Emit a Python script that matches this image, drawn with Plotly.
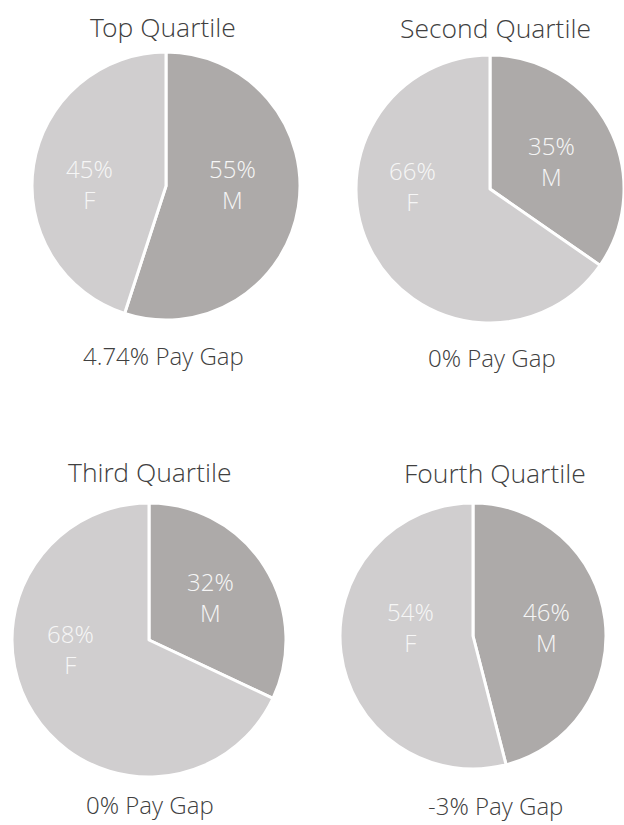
import plotly.graph_objects as go

W, H = 624, 825

quartiles = ["Top Quartile", "Second Quartile", "Third Quartile", "Fourth Quartile"]
labels = ["M", "F"]
male_pct = [55, 35, 32, 46]
female_pct = [45, 66, 68, 54]
pay_gap = ["4.74% Pay Gap", "0% Pay Gap", "0% Pay Gap", "-3% Pay Gap"]

colors = ["#ADAAA9", "#D0CECF"]
FONT = "Open Sans Light, Open Sans"

# layout: pie centre (px) and radius (px)
layout_px = [
    (166, 186, 134),
    (490, 189, 134),
    (149, 640, 137),
    (473, 636, 133),
]
title_px = [(163, 27), (495, 28), (150, 472), (495, 473)]
gap_px = [(163, 355), (492, 357), (150, 804), (495, 805)]
# label block centres (M, F) in px
label_px = [
    [(232, 184), (90, 184)],
    [(551, 161), (412, 186)],
    [(210, 597), (70, 649)],
    [(546, 627), (410, 627)],
]


def ann(x, y, text, size, color):
    fig.add_annotation(x=x / W, y=1 - y / H, xref="paper", yref="paper",
                       text=text, showarrow=False, xanchor="center", yanchor="middle",
                       font=dict(family=FONT, size=size, color=color, weight=300))


fig = go.Figure()
for i, q in enumerate(quartiles):
    cx, cy, r = layout_px[i]
    x0, x1 = max(0, cx - r) / W, min(W, cx + r) / W
    y0, y1 = (H - cy - r) / H, (H - cy + r) / H
    vals = [male_pct[i], female_pct[i]]
    fig.add_trace(go.Pie(
        labels=labels,
        values=vals,
        textinfo="none",
        sort=False,
        direction="clockwise",
        rotation=0,
        marker=dict(colors=colors, line=dict(color="white", width=3)),
        domain=dict(x=[x0, x1], y=[y0, y1]),
        showlegend=False,
        hoverinfo="label+percent",
    ))
    tx, ty = title_px[i]
    ann(tx, ty, q, 26.5, "#404040")
    gx, gy = gap_px[i]
    ann(gx, gy, pay_gap[i], 24, "#404040")
    for j, lab in enumerate(labels):
        lx, ly = label_px[i][j]
        ann(lx, ly, f"{vals[j]}%<br>{lab}", 24, "#F6F6F6")

fig.update_layout(
    width=W, height=H,
    margin=dict(l=0, r=0, t=0, b=0),
    paper_bgcolor="white",
    plot_bgcolor="white",
    showlegend=False,
)

fig.write_html("out.html", config={"displayModeBar": False},
               post_script="document.body.style.margin='0';document.body.style.overflow='hidden';")
